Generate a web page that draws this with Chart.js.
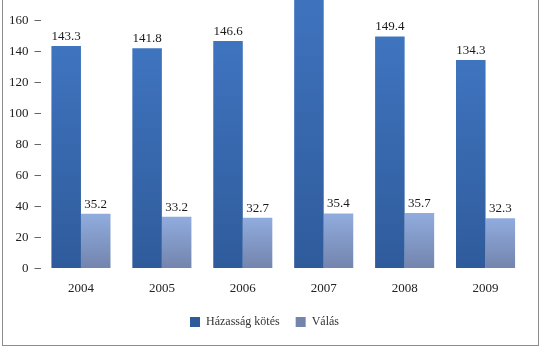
<!DOCTYPE html>
<html>
<head>
<meta charset="utf-8">
<script src="https://cdn.jsdelivr.net/npm/chart.js@4"></script>
<style>
  html, body { margin: 0; padding: 0; background: #fff; overflow: hidden; }
  body { width: 540px; height: 360px; position: relative; }
  #frame { position: absolute; left: 2px; top: -10px; width: 535px; height: 354px; border: 1px solid #8c8c8c; }
  #wrap { position: absolute; left: 0; top: -60px; width: 540px; height: 420px; }
</style>
</head>
<body>
<div id="frame"></div>
<div id="wrap"><canvas id="chart"></canvas></div>
<script>
const years = ['2004', '2005', '2006', '2007', '2008', '2009'];
const hazassag = [143.3, 141.8, 146.6, 180, 149.4, 134.3];
const valas = [35.2, 33.2, 32.7, 35.4, 35.7, 32.3];
const yTicks = [0, 20, 40, 60, 80, 100, 120, 140, 160, 180, 200];

const FONT = "'Liberation Serif', 'DejaVu Serif', serif";

// függőleges színátmenet oszloponként (teteje világosabb)
function grad(ctx, top, bottom) {
  const chart = ctx.chart;
  const y = chart.scales && chart.scales.y;
  if (!chart.chartArea || !y || ctx.raw == null) return top;
  const yTop = y.getPixelForValue(ctx.raw);
  const yBot = y.getPixelForValue(0);
  const g = chart.ctx.createLinearGradient(0, yTop, 0, yBot);
  g.addColorStop(0, top);
  g.addColorStop(1, bottom);
  return g;
}

// értékcímkék az oszlopok fölé
const valueLabels = {
  id: 'valueLabels',
  afterDatasetsDraw(chart) {
    const c = chart.ctx;
    c.save();
    c.font = '13px ' + FONT;
    c.fillStyle = '#1a1a1a';
    c.textAlign = 'center';
    c.textBaseline = 'bottom';
    chart.data.datasets.forEach((ds, i) => {
      chart.getDatasetMeta(i).data.forEach((bar, j) => {
        c.fillText(ds.data[j].toFixed(1), bar.x, bar.y - 3);
      });
    });
    c.restore();
  }
};

new Chart(document.getElementById('chart'), {
  type: 'bar',
  data: {
    labels: years,
    datasets: [
      {
        label: 'Házasság kötés',
        data: hazassag,
        backgroundColor: ctx => grad(ctx, '#3f74bf', '#2f5b9b'),
        categoryPercentage: 0.73,
        barPercentage: 1.0
      },
      {
        label: 'Válás',
        data: valas,
        backgroundColor: ctx => grad(ctx, '#90acde', '#7384ad'),
        categoryPercentage: 0.73,
        barPercentage: 1.0
      }
    ]
  },
  options: {
    responsive: true,
    maintainAspectRatio: false,
    animation: false,
    layout: { padding: { top: 18, left: 3, right: 14, bottom: 22 } },
    plugins: {
      legend: {
        position: 'bottom',
        labels: {
          font: { family: FONT, size: 12 },
          color: '#333',
          boxWidth: 10,
          boxHeight: 10,
          padding: 16
        }
      },
      tooltip: { enabled: false }
    },
    scales: {
      x: {
        grid: { display: false },
        border: { display: false },
        ticks: { font: { family: FONT, size: 13 }, color: '#222', padding: 4 }
      },
      y: {
        min: 0,
        max: 200,
        afterBuildTicks: axis => { axis.ticks = yTicks.map(v => ({ value: v })); },
        grid: { drawOnChartArea: false, tickLength: 6, color: '#666' },
        border: { display: false },
        ticks: { font: { family: FONT, size: 13 }, color: '#222', padding: 6 }
      }
    }
  },
  plugins: [valueLabels]
});
</script>
</body>
</html>
